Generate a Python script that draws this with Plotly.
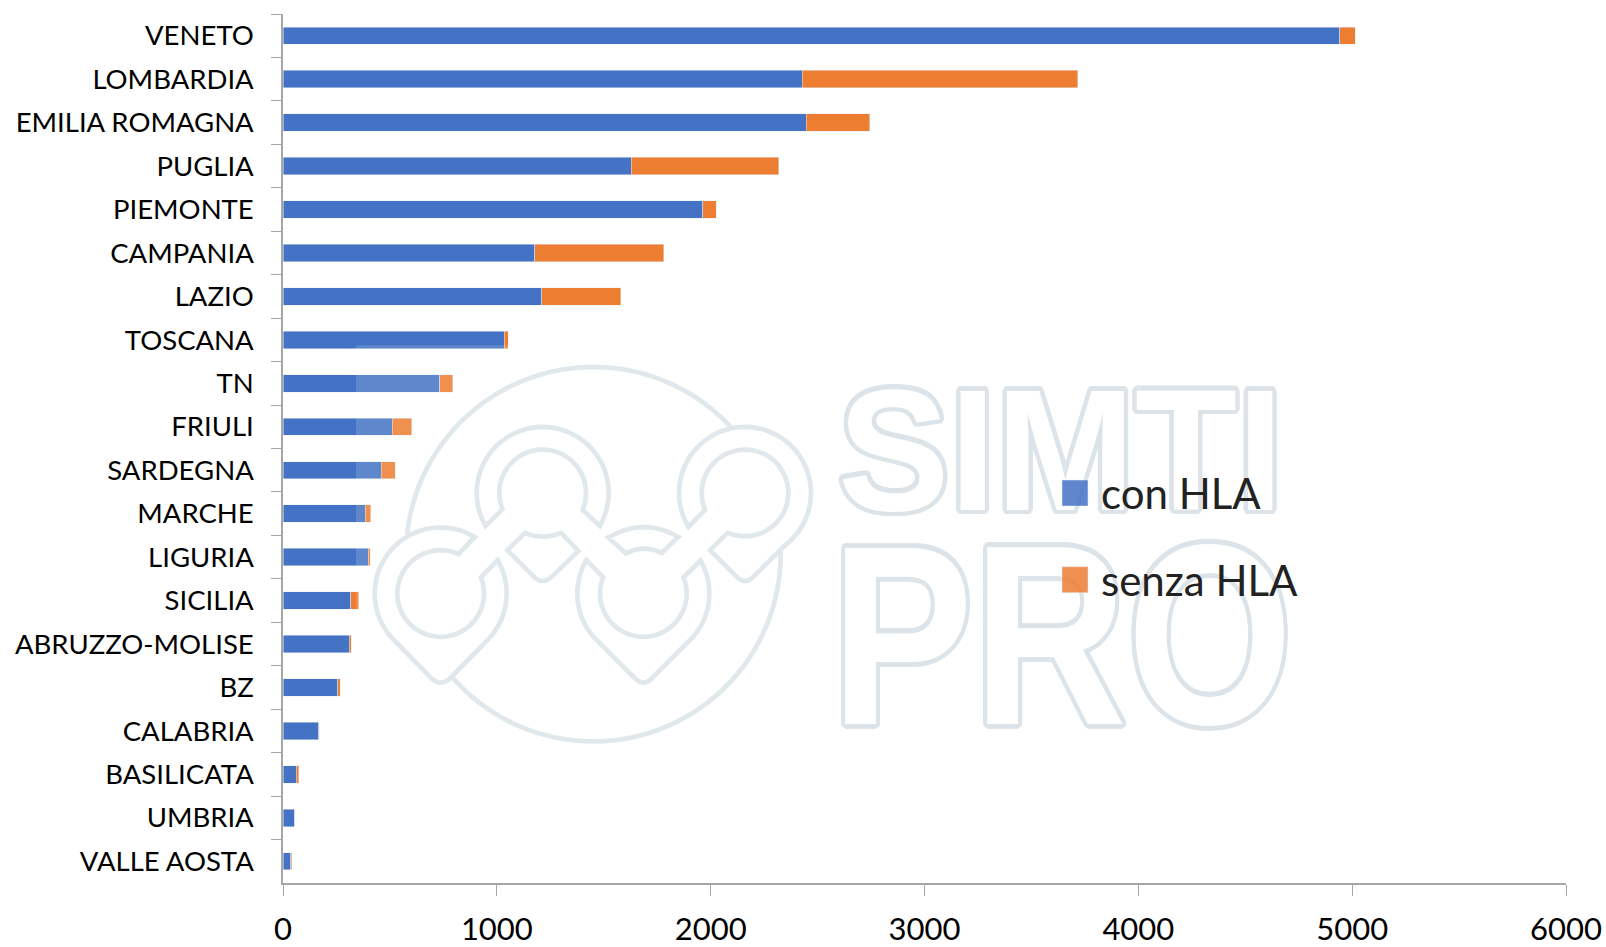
import math
import plotly.graph_objects as go

regions = ["VENETO", "LOMBARDIA", "EMILIA ROMAGNA", "PUGLIA", "PIEMONTE", "CAMPANIA", "LAZIO",
           "TOSCANA", "TN", "FRIULI", "SARDEGNA", "MARCHE", "LIGURIA", "SICILIA",
           "ABRUZZO-MOLISE", "BZ", "CALABRIA", "BASILICATA", "UMBRIA", "VALLE AOSTA"]
con_hla = [4943, 2428, 2447, 1628, 1963, 1177, 1211, 1034, 732, 511, 459, 384, 399, 317, 309, 255, 168, 63, 56, 37]
senza_hla = [72, 1289, 298, 690, 62, 604, 369, 19, 62, 91, 67, 26, 8, 38, 9, 12, 1, 10, 0, 4]
x_ticks = [0, 1000, 2000, 3000, 4000, 5000, 6000]

W, H = 1606, 947
L, R, T, B = 283, 1566, 13.5, 883
AXIS = "#A6A6A6"
WM = "#DCE4E9"


def px(x, y):
    return (x - L) / (R - L), (B - y) / (B - T)


def z(x, y):
    # logo coordinates are on a 3x grid anchored at (360, 350)
    return px(360 + x / 3, 350 + y / 3)


def arc(c, r, a0, a1, n=48):
    return [(c[0] + r * math.cos(math.radians(a0 + (a1 - a0) * i / n)),
             c[1] + r * math.sin(math.radians(a0 + (a1 - a0) * i / n))) for i in range(n + 1)]


def tip(a, ctrl, b, n=10):
    out = []
    for i in range(n + 1):
        t = i / n
        out.append(((1 - t) ** 2 * a[0] + 2 * t * (1 - t) * ctrl[0] + t * t * b[0],
                    (1 - t) ** 2 * a[1] + 2 * t * (1 - t) * ctrl[1] + t * t * b[1]))
    return out


def path(points, close=True):
    pts = [z(*p) for p in points]
    return "M" + "L".join(f"{a:.5f},{b:.5f}" for a, b in pts) + ("Z" if close else "")


RO, RI = 198, 130
logo = [
    path(arc((700, 612), 562, 186, 317), False),
    path(arc((700, 612), 562, -1, 139.5), False),
    path(arc((548, 428), RO, 150, 390) + arc((548, 428), RI, 23, -202)),
    path(arc((1155, 428), RO, 149, 412.6) + tip((1180, 680), (1155, 705), (1130, 680))
         + [(1050, 600), (1103, 548)] + arc((1155, 428), RI, 113, -203)),
    path(arc((242, 730), RO, -59, -222.6) + tip((215, 985), (242, 1010), (270, 985))
         + arc((242, 730), RO, 43.4, -30.3) + arc((242, 730), RI, -22, 294.3)),
    path(arc((850, 730), RO, 210.5, 137) + tip((825, 985), (850, 1010), (875, 985))
         + arc((850, 730), RO, 43, -30) + arc((850, 730), RI, -22, 202)),
    path(tip((495, 548), (548, 570), (603, 548)) + [(655, 602)]
         + tip((575, 680), (548, 705), (522, 680)) + [(442, 600)]),
    path(tip((745, 562), (850, 500), (955, 560)) + [(905, 608)]
         + tip((905, 608), (850, 582), (798, 610))),
]

shapes = [dict(type="path", xref="paper", yref="paper", path=p, layer="above",
               line=dict(color=WM, width=4.7), fillcolor="rgba(0,0,0,0)") for p in logo]
x0, y0 = px(356, 345)
x1, y1 = px(1300, 745)
shapes.append(dict(type="rect", xref="paper", yref="paper", x0=x0, x1=x1, y0=y0, y1=y1, layer="above",
                   line=dict(width=0), fillcolor="rgba(255,255,255,0.15)"))

d = 4.5
outline = ", ".join(f"{d * math.cos(a * math.pi / 8):.1f}px {d * math.sin(a * math.pi / 8):.1f}px 0 {WM}" for a in range(16))
sx, sy = px(1060, 450)
px_, py_ = px(1062, 635)
WF = "Liberation Sans, Arimo, Arial, DejaVu Sans, sans-serif"
annotations = [
    dict(text="SIMTI", xref="paper", yref="paper", x=sx, y=sy, xanchor="center", yanchor="middle", showarrow=False,
         font=dict(family=WF, size=167, color="white", weight=700, shadow=outline)),
    dict(text="PRO", xref="paper", yref="paper", x=px_, y=py_, xanchor="center", yanchor="middle", showarrow=False,
         font=dict(family=WF, size=213, color="white", weight=700, shadow=outline)),
]

fig = go.Figure()
fig.add_bar(y=regions, x=con_hla, name="con HLA", orientation="h", marker_color="#4472C4", legendgroup="a")
fig.add_bar(y=regions, x=senza_hla, name="senza HLA", orientation="h", marker_color="#ED7D31", legendgroup="b")

lx, ly = px(1049, 459)
fig.update_layout(
    width=W, height=H, barmode="stack", bargap=0.6, plot_bgcolor="white", paper_bgcolor="white",
    margin=dict(l=L, r=W - R, t=T, b=H - B, pad=0, autoexpand=False), font=dict(family="Lato", color="black"),
    xaxis=dict(range=[0, 6000], tickvals=x_ticks, ticks="outside", ticklen=11, tickwidth=1.3, tickcolor=AXIS,
               showgrid=False, zeroline=False, showline=True, linecolor=AXIS, linewidth=1.5, automargin=False,
               tickfont=dict(size=31, color="black"), ticklabelstandoff=7),
    yaxis=dict(categoryorder="array", categoryarray=regions, autorange="reversed", tickson="boundaries",
               ticks="outside", ticklen=10, tickwidth=1.3, tickcolor=AXIS, showgrid=False, zeroline=False,
               showline=True, linecolor=AXIS, linewidth=1.5, tickfont=dict(size=27.5, color="black"),
               ticklabelstandoff=22, automargin=False),
    legend=dict(x=lx, y=ly, xanchor="left", yanchor="top", traceorder="grouped", tracegroupgap=29, itemwidth=42,
                bgcolor="rgba(0,0,0,0)", font=dict(size=42, color="#222222")),
    shapes=shapes, annotations=annotations,
)

post = """
document.body.style.margin = '0';
function fix() {
  document.querySelectorAll('.legend .legendpoints path').forEach(function (p) {
    p.setAttribute('d', 'M13,13H-13V-13H13Z');
    p.style.fillOpacity = '0.85';
  });
  var il = document.querySelector('.infolayer');
  var lg = il && il.querySelector('.legend');
  if (lg) il.appendChild(lg);
  var scales = [1.03, 1.2];
  document.querySelectorAll('.annotation').forEach(function (g, i) {
    var b = g.getBBox(), cx = b.x + b.width / 2, cy = b.y + b.height / 2, s = scales[i];
    g.setAttribute('transform', 'translate(' + cx + ',' + cy + ') scale(1,' + s + ') translate(' + (-cx) + ',' + (-cy) + ')');
  });
}
fix();
[50, 200, 600].forEach(function (t) { setTimeout(fix, t); });
"""
fig.write_html("out.html", post_script=post, config=dict(displayModeBar=False))
